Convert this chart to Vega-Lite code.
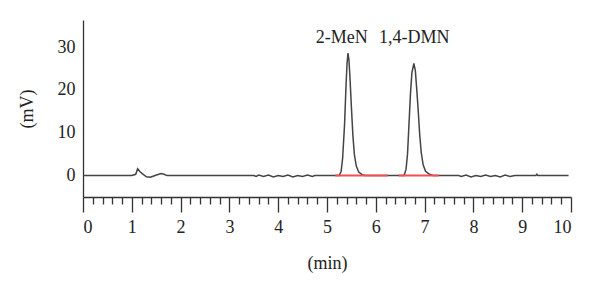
{
  "$schema": "https://vega.github.io/schema/vega-lite/v6.json",
  "width": 488,
  "height": 177,
  "autosize": {"type": "none"},
  "padding": {"left": 83, "top": 20, "right": 29, "bottom": 93},
  "background": "white",
  "config": {"view": {"stroke": null}, "font": "Liberation Serif"},
  "datasets": {
    "trace": [
      {"t": 0, "mv": 0}, {"t": 1.0, "mv": 0}, {"t": 1.08, "mv": 0.3}, {"t": 1.12, "mv": 1.6},
      {"t": 1.17, "mv": 0.9}, {"t": 1.22, "mv": 0.4}, {"t": 1.3, "mv": -0.3}, {"t": 1.38, "mv": -0.4},
      {"t": 1.45, "mv": -0.1}, {"t": 1.52, "mv": 0.2}, {"t": 1.6, "mv": 0.5}, {"t": 1.66, "mv": 0.3},
      {"t": 1.72, "mv": 0}, {"t": 3.5, "mv": 0}, {"t": 3.55, "mv": -0.2}, {"t": 3.6, "mv": 0.1},
      {"t": 3.7, "mv": -0.2}, {"t": 3.8, "mv": 0.1}, {"t": 3.9, "mv": -0.3}, {"t": 4.0, "mv": 0},
      {"t": 4.1, "mv": -0.2}, {"t": 4.2, "mv": 0.1}, {"t": 4.3, "mv": -0.3}, {"t": 4.4, "mv": 0},
      {"t": 4.5, "mv": -0.2}, {"t": 4.6, "mv": 0.1}, {"t": 4.7, "mv": -0.2}, {"t": 4.75, "mv": 0},
      {"t": 5.25, "mv": 0}, {"t": 5.29, "mv": 1}, {"t": 5.32, "mv": 4}, {"t": 5.36, "mv": 12},
      {"t": 5.39, "mv": 21}, {"t": 5.41, "mv": 26}, {"t": 5.43, "mv": 28.6}, {"t": 5.45, "mv": 27},
      {"t": 5.47, "mv": 23}, {"t": 5.5, "mv": 16}, {"t": 5.53, "mv": 9.5}, {"t": 5.56, "mv": 5},
      {"t": 5.6, "mv": 2.2}, {"t": 5.65, "mv": 0.8}, {"t": 5.72, "mv": 0.2}, {"t": 5.78, "mv": 0},
      {"t": 6.58, "mv": 0}, {"t": 6.62, "mv": 1.5}, {"t": 6.65, "mv": 5}, {"t": 6.68, "mv": 12},
      {"t": 6.71, "mv": 19}, {"t": 6.74, "mv": 24}, {"t": 6.78, "mv": 26.2}, {"t": 6.81, "mv": 24.5},
      {"t": 6.84, "mv": 20}, {"t": 6.87, "mv": 15}, {"t": 6.9, "mv": 9.5}, {"t": 6.93, "mv": 5.5},
      {"t": 6.97, "mv": 2.5}, {"t": 7.02, "mv": 1}, {"t": 7.1, "mv": 0.3}, {"t": 7.17, "mv": 0},
      {"t": 7.7, "mv": 0}, {"t": 7.75, "mv": -0.2}, {"t": 7.85, "mv": 0.1}, {"t": 7.95, "mv": -0.3},
      {"t": 8.05, "mv": 0}, {"t": 8.15, "mv": -0.2}, {"t": 8.25, "mv": 0.1}, {"t": 8.35, "mv": -0.2},
      {"t": 8.45, "mv": 0}, {"t": 8.55, "mv": -0.3}, {"t": 8.65, "mv": 0.1}, {"t": 8.75, "mv": -0.2},
      {"t": 8.85, "mv": 0}, {"t": 9.28, "mv": 0}, {"t": 9.3, "mv": 0.3}, {"t": 9.32, "mv": 0},
      {"t": 9.95, "mv": 0}
    ],
    "baselines": [
      {"start": 5.17, "end": 6.24, "level": 0},
      {"start": 6.47, "end": 7.29, "level": 0}
    ],
    "labels": [
      {"t": 5.3, "mv": 32.1, "name": "2-MeN"},
      {"t": 6.79, "mv": 32.1, "name": "1,4-DMN"}
    ]
  },
  "layer": [
    {
      "data": {"name": "trace"},
      "mark": {"type": "line", "color": "#444444", "strokeWidth": 1.5},
      "encoding": {
        "x": {
          "field": "t", "type": "quantitative",
          "scale": {"domain": [0, 10], "nice": false, "zero": false},
          "axis": {
            "title": "(min)",
            "titleFont": "Liberation Serif", "titleFontSize": 18, "titleFontWeight": "normal",
            "titleColor": "#222222", "titlePadding": 18,
            "values": [0,0.2,0.4,0.6,0.8,1,1.2,1.4,1.6,1.8,2,2.2,2.4,2.6,2.8,3,3.2,3.4,3.6,3.8,4,4.2,4.4,4.6,4.8,5,5.2,5.4,5.6,5.8,6,6.2,6.4,6.6,6.8,7,7.2,7.4,7.6,7.8,8,8.2,8.4,8.6,8.8,9,9.2,9.4,9.6,9.8,10],
            "tickCount": 100,
            "labelExpr": "datum.value % 1 === 0 ? format(datum.value, 'd') : ''",
            "labelOverlap": false,
            "labelFont": "Liberation Serif", "labelFontSize": 18, "labelColor": "#222222",
            "labelPadding": 6,
            "tickSize": {"condition": {"test": "datum.value % 1 === 0", "value": 15}, "value": 7},
            "tickColor": "#333333", "tickWidth": 1.3,
            "domainColor": "#333333", "domainWidth": 1.3,
            "grid": false
          }
        },
        "y": {
          "field": "mv", "type": "quantitative",
          "scale": {"domain": [-5, 36.3], "nice": false, "zero": false},
          "axis": {
            "title": "(mV)",
            "titleFont": "Liberation Serif", "titleFontSize": 18, "titleFontWeight": "normal",
            "titleColor": "#222222", "titlePadding": 21,
            "values": [0, 10, 20, 30],
            "labelFont": "Liberation Serif", "labelFontSize": 18, "labelColor": "#222222",
            "ticks": false, "labelPadding": 8,
            "domainColor": "#333333", "domainWidth": 1.3,
            "grid": false
          }
        }
      }
    },
    {
      "data": {"name": "baselines"},
      "mark": {"type": "rule", "color": "#f05050", "strokeWidth": 2},
      "encoding": {
        "x": {"field": "start", "type": "quantitative"},
        "x2": {"field": "end"},
        "y": {"field": "level", "type": "quantitative"}
      }
    },
    {
      "data": {"name": "labels"},
      "mark": {"type": "text", "font": "Liberation Serif", "fontSize": 18, "color": "#222222", "baseline": "middle"},
      "encoding": {
        "x": {"field": "t", "type": "quantitative"},
        "y": {"field": "mv", "type": "quantitative"},
        "text": {"field": "name"}
      }
    }
  ]
}
